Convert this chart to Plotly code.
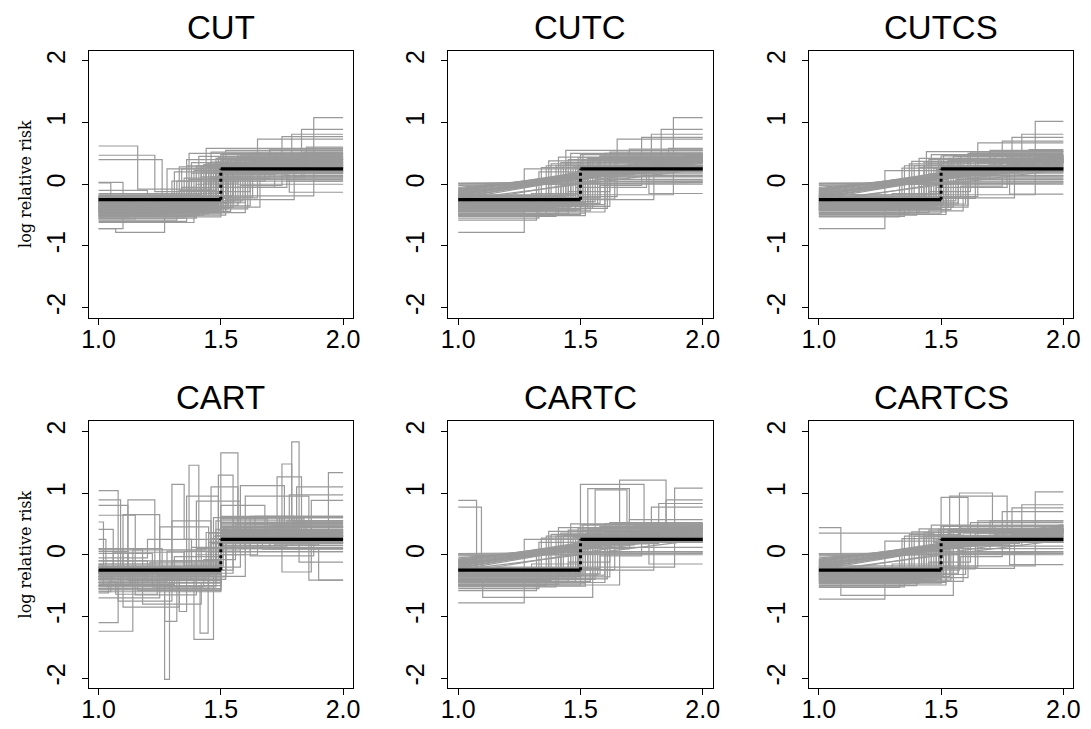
import plotly.graph_objects as go

W, H = 1091, 729

TITLES = ["CUT", "CUTC", "CUTCS", "CART", "CARTC", "CARTCS"]
X_TICKS = [1.0, 1.5, 2.0]
X_TICK_TEXT = ["1.0", "1.5", "2.0"]
Y_TICKS = [-2, -1, 0, 1, 2]
Y_TICK_TEXT = ["-2", "-1", "0", "1", "2"]
Y_LABEL = "log relative risk"
X_START, X_END = 1.0, 2.0
TRUE_BREAK = 1.5
TRUE_LEVELS = [-0.25, 0.25]

# each gray curve: (break points, levels) of a step function over [1, 2]
CUT_STEPS = [
    ([1.88], [-0.19, 1.08]), ([1.52, 1.83], [-0.30, 0.12, 0.89]),
    ([1.47, 1.79], [-0.36, 0.22, 0.81]), ([1.44, 1.75], [-0.27, 0.33, 0.77]),
    ([1.50, 1.65], [-0.42, -0.22, 0.73]), ([1.16, 1.46], [0.62, -0.08, 0.36]),
    ([1.23, 1.51], [0.47, -0.12, 0.28]), ([1.26, 1.55], [0.40, -0.20, 0.22]),
    ([1.10, 1.42], [0.03, -0.28, 0.18]), ([1.07, 1.27, 1.50], [-0.72, -0.78, -0.35, 0.30]),
    ([1.10, 1.40], [-0.72, -0.45, 0.26]), ([1.30, 1.56], [-0.50, 0.05, 0.40]),
    ([1.35, 1.60], [-0.55, 0.10, 0.45]), ([1.38], [-0.45, 0.35]),
    ([1.40], [-0.40, 0.30]), ([1.42], [-0.35, 0.28]), ([1.45], [-0.30, 0.32]),
    ([1.47], [-0.25, 0.25]), ([1.49], [-0.22, 0.20]), ([1.50], [-0.32, 0.38]),
    ([1.51], [-0.28, 0.15]), ([1.53], [-0.20, 0.40]), ([1.55], [-0.38, 0.22]),
    ([1.58], [-0.30, 0.30]), ([1.62], [-0.35, 0.50]),
    ([1.33, 1.48], [-0.42, -0.10, 0.42]), ([1.36, 1.52], [-0.60, -0.20, 0.55]),
    ([1.43, 1.57], [-0.50, 0.02, 0.48]), ([1.46, 1.70], [-0.24, 0.10, 0.57]),
    ([1.48, 1.77], [-0.18, -0.05, 0.45]), ([1.52, 1.80], [-0.46, -0.25, 0.35]),
    ([1.50, 1.77], [-0.38, 0.30, 0.05]), ([1.55, 1.80], [-0.30, 0.35, 0.12]),
    ([1.48], [-0.15, 0.00]), ([1.49, 1.78], [-0.33, 0.15, -0.13]),
    ([1.45], [-0.48, 0.18]), ([1.40, 1.60], [-0.52, -0.30, 0.10]),
    ([1.32], [-0.58, 0.05]), ([1.37], [-0.26, 0.50]), ([1.44], [-0.20, 0.58]),
    ([1.51], [-0.44, 0.42]), ([1.53, 1.85], [-0.40, 0.20, 0.60]),
    ([1.56], [-0.27, 0.08]), ([1.46], [-0.36, 0.12]), ([1.34], [-0.32, 0.25]),
    ([1.20, 1.50], [-0.10, -0.40, 0.33]), ([1.50], [-0.48, 0.48]),
    ([1.39], [-0.62, 0.22]), ([1.60], [-0.46, 0.36]), ([1.58, 1.75], [-0.22, -0.02, 0.42]),
    ([1.05, 1.36], [0.02, -0.36, 0.30]), ([1.12, 1.44], [-0.55, -0.18, 0.27]),
    ([1.31], [-0.40, 0.20]), ([1.33], [-0.46, 0.28]), ([1.36], [-0.30, 0.40]),
    ([1.38], [-0.35, 0.18]), ([1.41], [-0.50, 0.45]), ([1.43], [-0.42, 0.32]),
    ([1.44], [-0.28, 0.22]), ([1.46], [-0.33, 0.52]), ([1.47], [-0.45, 0.26]),
    ([1.48], [-0.38, 0.36]), ([1.49], [-0.29, 0.44]), ([1.50], [-0.41, 0.24]),
    ([1.50], [-0.26, 0.31]), ([1.51], [-0.35, 0.50]), ([1.52], [-0.50, 0.20]),
    ([1.52], [-0.23, 0.34]), ([1.53], [-0.31, 0.27]), ([1.54], [-0.44, 0.39]),
    ([1.55], [-0.19, 0.30]), ([1.57], [-0.34, 0.44]), ([1.59], [-0.27, 0.19]),
    ([1.61], [-0.40, 0.28]), ([1.63], [-0.21, 0.37]), ([1.66], [-0.37, 0.25]),
    ([1.34, 1.51], [-0.47, -0.05, 0.33]), ([1.37, 1.53], [-0.39, 0.08, 0.40]),
    ([1.40, 1.55], [-0.55, 0.00, 0.29]), ([1.42, 1.58], [-0.31, 0.12, 0.46]),
    ([1.45, 1.62], [-0.43, -0.12, 0.38]), ([1.47, 1.68], [-0.28, 0.05, 0.31]),
    ([1.49, 1.72], [-0.36, 0.16, 0.48]), ([1.51, 1.74], [-0.24, 0.22, 0.40]),
    ([1.30, 1.50], [-0.33, -0.15, 0.20]), ([1.25, 1.48], [-0.52, -0.32, 0.27]),
    ([1.20, 1.45], [-0.38, -0.22, 0.35]), ([1.15, 1.50], [-0.56, -0.30, 0.23]),
    ([1.50, 1.82], [-0.30, 0.18, 0.34]), ([1.50, 1.76], [-0.42, 0.28, 0.14]),
    ([1.48, 1.79], [-0.22, 0.35, 0.20]), ([1.53, 1.70], [-0.35, 0.42, 0.55]),
    ([1.28, 1.50], [-0.44, 0.25, 0.18]), ([1.42, 1.64], [-0.17, 0.30, 0.41]),
    ([1.46, 1.84], [-0.39, 0.08, 0.52]), ([1.50, 1.72], [-0.53, -0.05, 0.26]),
]
CUT_LINES = []

CUTC_STEPS = [
    ([1.88], [-0.17, 1.08]), ([1.52, 1.83], [-0.30, 0.15, 0.89]),
    ([1.48, 1.79], [-0.36, 0.20, 0.81]), ([1.44, 1.75], [-0.27, 0.35, 0.76]),
    ([1.50, 1.65], [-0.40, -0.20, 0.73]), ([1.27, 1.50], [-0.78, -0.40, 0.28]),
    ([1.27, 1.55], [-0.45, 0.25, 0.40]), ([1.33, 1.53], [-0.55, 0.20, 0.35]),
    ([1.36, 1.58], [-0.50, 0.30, 0.45]), ([1.38], [-0.42, 0.33]),
    ([1.40], [-0.38, 0.30]), ([1.42, 1.60], [-0.35, 0.35, 0.50]),
    ([1.45], [-0.30, 0.40]), ([1.47], [-0.26, 0.28]), ([1.49], [-0.22, 0.22]),
    ([1.50], [-0.33, 0.38]), ([1.51], [-0.29, 0.15]), ([1.53], [-0.21, 0.42]),
    ([1.55], [-0.39, 0.24]), ([1.58], [-0.31, 0.30]), ([1.62], [-0.36, 0.52]),
    ([1.46, 1.70], [-0.25, 0.10, 0.57]), ([1.48, 1.77], [-0.18, -0.05, 0.45]),
    ([1.52, 1.80], [-0.47, -0.25, 0.36]), ([1.49, 1.78], [-0.34, 0.18, -0.15]),
    ([1.45], [-0.48, 0.18]), ([1.40, 1.60], [-0.52, -0.33, 0.12]),
    ([1.32], [-0.58, 0.05]), ([1.56], [-0.28, 0.08]), ([1.46], [-0.37, 0.13]),
    ([1.50], [-0.49, 0.48]), ([1.60], [-0.45, 0.36]),
    ([1.58, 1.75], [-0.22, -0.02, 0.42]), ([1.53, 1.86], [-0.40, 0.20, 0.58]),
    ([1.44], [-0.20, 0.55]),
    ([1.34], [-0.44, 0.27]), ([1.37], [-0.31, 0.38]), ([1.41], [-0.48, 0.44]),
    ([1.43], [-0.40, 0.31]), ([1.46], [-0.34, 0.50]), ([1.48], [-0.43, 0.25]),
    ([1.49], [-0.28, 0.43]), ([1.50], [-0.40, 0.23]), ([1.51], [-0.34, 0.49]),
    ([1.52], [-0.51, 0.21]), ([1.54], [-0.43, 0.38]), ([1.57], [-0.33, 0.43]),
    ([1.61], [-0.39, 0.27]), ([1.64], [-0.24, 0.36]),
    ([1.37, 1.53], [-0.39, 0.08, 0.40]), ([1.42, 1.58], [-0.31, 0.12, 0.46]),
    ([1.45, 1.62], [-0.43, -0.12, 0.38]), ([1.49, 1.72], [-0.36, 0.16, 0.48]),
    ([1.30, 1.50], [-0.33, -0.15, 0.20]), ([1.50, 1.82], [-0.30, 0.18, 0.34]),
    ([1.50, 1.76], [-0.42, 0.28, 0.14]), ([1.53, 1.70], [-0.35, 0.42, 0.55]),
]
# linear fits: (value at x=1, value at x=2)
CUTC_LINES = [
    (-0.15, 0.45), (-0.12, 0.48), (-0.18, 0.42), (-0.10, 0.40), (-0.20, 0.38),
    (-0.08, 0.35), (-0.14, 0.30), (-0.22, 0.46), (-0.05, 0.28), (0.02, 0.05),
    (0.00, 0.00), (-0.02, 0.03), (-0.25, 0.25), (-0.30, 0.35), (-0.11, 0.50),
    (-0.16, 0.40), (-0.13, 0.44), (-0.19, 0.47), (-0.09, 0.43), (-0.17, 0.36),
    (-0.21, 0.41), (-0.07, 0.39), (-0.14, 0.37), (-0.24, 0.43), (0.01, 0.02),
]

CUTCS_STEPS = [
    ([1.885], [-0.17, 1.02]), ([1.52, 1.83], [-0.30, 0.15, 0.81]),
    ([1.48, 1.79], [-0.36, 0.20, 0.76]), ([1.44, 1.75], [-0.27, 0.33, 0.70]),
    ([1.50, 1.65], [-0.40, -0.20, 0.67]), ([1.27, 1.50], [-0.72, -0.40, 0.28]),
    ([1.27, 1.53], [-0.42, 0.22, 0.38]), ([1.35, 1.55], [-0.52, 0.30, 0.45]),
    ([1.37, 1.58], [-0.47, 0.33, 0.40]), ([1.39], [-0.40, 0.30]),
    ([1.41], [-0.36, 0.27]), ([1.43, 1.62], [-0.33, 0.36, 0.52]),
    ([1.45], [-0.29, 0.40]), ([1.47], [-0.25, 0.26]), ([1.49], [-0.21, 0.20]),
    ([1.50], [-0.31, 0.36]), ([1.51], [-0.27, 0.14]), ([1.53], [-0.20, 0.42]),
    ([1.55], [-0.37, 0.22]), ([1.57], [-0.30, 0.30]), ([1.61], [-0.34, 0.50]),
    ([1.46, 1.70], [-0.24, 0.10, 0.55]), ([1.48, 1.77], [-0.17, -0.05, 0.44]),
    ([1.52, 1.80], [-0.45, -0.22, 0.34]), ([1.49, 1.78], [-0.33, 0.17, -0.16]),
    ([1.45], [-0.46, 0.17]), ([1.40, 1.60], [-0.50, -0.32, 0.10]),
    ([1.33], [-0.53, 0.05]), ([1.56], [-0.27, 0.08]), ([1.46], [-0.36, 0.12]),
    ([1.50], [-0.47, 0.46]), ([1.59], [-0.43, 0.34]),
    ([1.58, 1.75], [-0.21, -0.03, 0.41]), ([1.53, 1.86], [-0.38, 0.20, 0.56]),
    ([1.44], [-0.19, 0.53]),
    ([1.34], [-0.42, 0.26]), ([1.38], [-0.30, 0.37]), ([1.41], [-0.46, 0.42]),
    ([1.43], [-0.39, 0.30]), ([1.46], [-0.33, 0.48]), ([1.48], [-0.41, 0.24]),
    ([1.49], [-0.27, 0.41]), ([1.50], [-0.38, 0.22]), ([1.51], [-0.33, 0.47]),
    ([1.52], [-0.49, 0.20]), ([1.54], [-0.41, 0.37]), ([1.57], [-0.32, 0.42]),
    ([1.61], [-0.37, 0.26]), ([1.64], [-0.23, 0.35]),
    ([1.37, 1.53], [-0.38, 0.08, 0.39]), ([1.42, 1.58], [-0.30, 0.12, 0.45]),
    ([1.45, 1.62], [-0.41, -0.12, 0.37]), ([1.49, 1.72], [-0.35, 0.16, 0.46]),
    ([1.30, 1.50], [-0.32, -0.15, 0.20]), ([1.50, 1.82], [-0.29, 0.18, 0.33]),
    ([1.50, 1.76], [-0.40, 0.28, 0.14]), ([1.53, 1.70], [-0.34, 0.41, 0.53]),
]
CUTCS_LINES = [
    (-0.15, 0.45), (-0.12, 0.47), (-0.18, 0.40), (-0.10, 0.38), (-0.20, 0.36),
    (-0.08, 0.33), (-0.14, 0.30), (-0.22, 0.44), (-0.05, 0.27), (0.02, 0.04),
    (0.00, 0.00), (-0.02, 0.02), (-0.26, 0.24), (-0.30, 0.33), (-0.11, 0.49),
    (-0.16, 0.39), (-0.13, 0.43), (-0.19, 0.46), (-0.09, 0.42), (-0.17, 0.35),
    (-0.21, 0.40), (-0.07, 0.38), (-0.14, 0.36), (-0.24, 0.42), (0.01, 0.02),
]

CART_STEPS = [
    ([1.50, 1.79, 1.82], [-0.30, 0.15, 1.83, -0.12]),
    ([1.50, 1.57], [-0.40, 1.65, 0.35]),
    ([1.37, 1.41, 1.50], [-0.30, 1.45, -0.10, 0.40]),
    ([1.50, 1.94], [-0.25, 0.30, 1.33]),
    ([1.50, 1.75, 1.79], [-0.45, 0.45, 1.47, 0.50]),
    ([1.49, 1.55], [-0.20, 1.29, 0.20]),
    ([1.30, 1.35], [-0.35, 1.14, 0.25]),
    ([1.12, 1.23, 1.50], [-0.40, 0.89, -0.20, 0.30]),
    ([1.48, 1.73, 1.83], [-0.30, 0.20, 1.26, 0.40]),
    ([1.08, 1.50], [1.04, -0.30, 0.30]),
    ([1.09, 1.45], [0.89, -0.45, 0.20]),
    ([1.12, 1.52], [0.80, -0.35, 0.45]),
    ([1.15, 1.55], [0.64, -0.25, 0.15]),
    ([1.02, 1.40], [0.53, -0.50, 0.10]),
    ([1.06, 1.48], [0.41, -0.28, 0.35]),
    ([1.14, 1.50], [-1.24, -0.30, 0.25]),
    ([1.08, 1.50], [-1.10, -0.20, 0.40]),
    ([1.27, 1.29, 1.50], [-0.30, -2.02, -0.40, 0.30]),
    ([1.415, 1.448, 1.50], [-0.50, -1.27, -0.30, 0.20]),
    ([1.39, 1.47], [-0.40, -1.37, 0.30]),
    ([1.27, 1.32, 1.50], [-0.55, -1.08, -0.25, 0.35]),
    ([1.50, 1.86], [-0.30, 0.30, -0.41]),
    ([1.50, 1.90], [-0.20, 0.10, -0.41]),
    ([1.50, 1.75, 1.87], [-0.35, 0.25, -0.28, 0.45]),
    ([1.50, 1.81], [-0.25, 0.40, 1.10]),
    ([1.52, 1.78], [-0.40, 0.35, 0.97]),
    ([1.50, 1.87], [-0.30, 0.20, 0.88]),
    ([1.10, 1.25, 1.50], [-0.30, 0.65, -0.20, 0.35]),
    ([1.40, 1.58], [-0.35, 0.87, 0.30]),
    ([1.36, 1.49], [-0.25, 0.95, 0.40]),
    ([1.30, 1.46], [-0.50, 0.55, 0.20]),
    ([1.25, 1.45], [-0.15, 0.45, 0.05]),
    ([1.46, 1.57, 1.80], [-0.30, 1.10, 0.40, 0.55]),
    ([1.58, 1.76], [-0.20, 1.12, 0.30]),
    ([1.60, 1.86], [-0.35, 0.95, 0.45]),
    ([1.50, 1.68], [-0.60, 0.80, 0.20]),
    ([1.45], [-0.55, 0.35]), ([1.48], [-0.45, 0.55]), ([1.50], [-0.35, 0.20]),
    ([1.52], [-0.25, 0.30]), ([1.42, 1.60], [-0.30, 0.10, 0.45]),
    ([1.35, 1.55], [-0.20, 0.05, 0.60]), ([1.50, 1.70], [-0.50, 0.30, 0.10]),
    ([1.30, 1.50], [-0.40, -0.10, 0.35]), ([1.20, 1.50, 1.80], [-0.10, -0.45, 0.25, 0.55]),
    ([1.05, 1.50], [-0.60, -0.20, 0.15]), ([1.15, 1.40, 1.60], [-0.35, -0.65, 0.00, 0.40]),
    ([1.25, 1.50], [-0.70, -0.30, 0.50]), ([1.10, 1.33, 1.50], [-0.20, -0.85, -0.30, 0.30]),
    ([1.33, 1.36, 1.50], [-0.45, -0.92, -0.20, 0.28]), ([1.50], [-0.15, 0.62]),
    ([1.50, 1.65], [-0.28, 0.00, 0.35]), ([1.55], [-0.30, 0.05]),
    ([1.50, 1.60, 1.85], [-0.40, 0.15, 0.50, 0.25]), ([1.10, 1.50], [0.10, -0.35, 0.40]),
    ([1.03, 1.50], [0.25, -0.30, 0.20]), ([1.08, 1.30, 1.50], [-0.55, -0.75, -0.25, 0.45]),
    ([1.47, 1.75], [-0.10, 0.60, 0.30]), ([1.18, 1.42, 1.50], [-0.30, -0.80, -0.45, 0.38]),
    ([1.50], [-0.22, 0.12]), ([1.20, 1.38, 1.50], [-0.05, 0.25, -0.15, 0.48]),
    ([1.44, 1.62, 1.80], [-0.38, 0.05, 0.62, 0.18]),
    ([1.12, 1.50], [0.05, -0.42, 0.22]), ([1.18, 1.50], [0.08, -0.28, 0.33]),
    ([1.22, 1.48], [0.02, -0.52, 0.41]), ([1.26, 1.52], [0.10, -0.36, 0.27]),
    ([1.06, 1.35, 1.50], [-0.38, 0.04, -0.18, 0.52]), ([1.14, 1.44], [-0.48, 0.08, 0.36]),
    ([1.04, 1.28, 1.50], [-0.62, -0.44, 0.06, 0.31]), ([1.16, 1.50], [-0.26, -0.58, 0.44]),
    ([1.09, 1.50, 1.70], [-0.50, -0.24, 0.12, 0.47]), ([1.21, 1.50, 1.84], [-0.33, -0.12, 0.58, 0.36]),
    ([1.50, 1.64], [-0.46, 0.24, 0.62]), ([1.50, 1.72, 1.90], [-0.27, 0.52, 0.16, 0.38]),
    ([1.50, 1.58, 1.78], [-0.36, 0.06, 0.38, 0.21]), ([1.48, 1.67], [-0.41, 0.31, 0.09]),
    ([1.51, 1.82], [-0.18, 0.43, 0.30]), ([1.50, 1.77], [-0.57, 0.14, 0.55]),
    ([1.46, 1.62, 1.88], [-0.29, 0.18, -0.02, 0.28]), ([1.50, 1.69], [-0.32, 0.58, 0.40]),
    ([1.43, 1.56], [-0.52, -0.08, 0.50]), ([1.38, 1.50], [-0.36, 0.12, 0.32]),
    ([1.07, 1.24, 1.46], [-0.44, -0.64, -0.33, 0.26]), ([1.13, 1.31, 1.50], [-0.27, -0.48, -0.03, 0.44]),
    ([1.02, 1.19, 1.50], [-0.16, -0.40, -0.22, 0.18]), ([1.29, 1.50, 1.74], [-0.24, -0.55, 0.35, 0.60]),
]
CART_LINES = []

CARTC_STEPS = [
    ([1.075, 1.50], [0.88, -0.35, 0.30]), ([1.095, 1.50], [0.77, -0.30, 0.25]),
    ([1.27, 1.50], [-0.78, -0.40, 0.28]), ([1.10, 1.55], [-0.45, -0.69, 0.30]),
    ([1.50, 1.76], [-0.35, 1.14, 0.35]), ([1.50, 1.66, 1.85], [-0.30, 0.40, 1.21, 0.45]),
    ([1.53, 1.70], [-0.25, 1.07, 0.35]), ([1.56, 1.69], [-0.40, 1.05, 0.30]),
    ([1.885], [-0.20, 1.08]), ([1.50, 1.85], [-0.30, 0.30, 0.89]),
    ([1.48, 1.82], [-0.36, 0.20, 0.83]), ([1.52, 1.79], [-0.28, 0.35, 0.77]),
    ([1.27, 1.55], [-0.45, 0.25, 0.40]), ([1.33, 1.53], [-0.55, 0.20, 0.35]),
    ([1.36, 1.58], [-0.50, 0.30, 0.45]), ([1.38], [-0.42, 0.33]),
    ([1.40], [-0.38, 0.30]), ([1.42, 1.60], [-0.35, 0.35, 0.50]),
    ([1.45], [-0.30, 0.40]), ([1.47], [-0.26, 0.28]), ([1.49], [-0.22, 0.22]),
    ([1.50], [-0.33, 0.38]), ([1.53], [-0.21, 0.42]), ([1.55], [-0.39, 0.24]),
    ([1.58], [-0.31, 0.30]), ([1.62], [-0.36, 0.52]),
    ([1.46, 1.70], [-0.25, 0.10, 0.57]), ([1.52, 1.80], [-0.47, -0.25, 0.36]),
    ([1.49, 1.78], [-0.34, 0.18, -0.15]), ([1.66], [-0.49, 0.20]),
    ([1.40, 1.60], [-0.52, -0.33, 0.12]), ([1.32], [-0.58, 0.05]),
    ([1.50], [-0.49, 0.48]), ([1.60], [-0.45, 0.36]),
    ([1.58, 1.75], [-0.22, -0.02, 0.42]),
    ([1.34], [-0.44, 0.27]), ([1.37], [-0.31, 0.38]), ([1.41], [-0.48, 0.44]),
    ([1.43], [-0.40, 0.31]), ([1.46], [-0.34, 0.50]), ([1.48], [-0.43, 0.25]),
    ([1.49], [-0.28, 0.43]), ([1.50], [-0.40, 0.23]), ([1.51], [-0.34, 0.49]),
    ([1.52], [-0.51, 0.21]), ([1.54], [-0.43, 0.38]), ([1.57], [-0.33, 0.43]),
    ([1.61], [-0.39, 0.27]), ([1.64], [-0.24, 0.36]),
    ([1.37, 1.53], [-0.39, 0.08, 0.40]), ([1.42, 1.58], [-0.31, 0.12, 0.46]),
    ([1.45, 1.62], [-0.43, -0.12, 0.38]), ([1.49, 1.72], [-0.36, 0.16, 0.48]),
    ([1.30, 1.50], [-0.33, -0.15, 0.20]), ([1.50, 1.82], [-0.30, 0.18, 0.34]),
]
CARTC_LINES = [
    (-0.15, 0.45), (-0.12, 0.48), (-0.18, 0.42), (-0.10, 0.40), (-0.20, 0.38),
    (-0.08, 0.35), (-0.14, 0.30), (-0.22, 0.46), (-0.05, 0.28), (0.02, 0.05),
    (0.00, 0.00), (-0.02, 0.03), (-0.25, 0.25), (-0.30, 0.35), (-0.11, 0.50),
    (-0.16, 0.40), (-0.13, 0.44), (-0.19, 0.47), (-0.09, 0.43), (-0.17, 0.36),
    (-0.21, 0.41), (-0.07, 0.39), (-0.14, 0.37), (-0.24, 0.43), (0.01, 0.02),
]

CARTCS_STEPS = [
    ([1.09, 1.50], [0.44, -0.35, 0.30]), ([1.47], [0.35, 0.20]),
    ([1.27, 1.50], [-0.72, -0.40, 0.28]), ([1.09, 1.55], [-0.45, -0.66, 0.30]),
    ([1.575, 1.71], [-0.25, 1.00, 0.35]), ([1.535, 1.77], [-0.35, 0.95, 0.30]),
    ([1.50, 1.61], [-0.30, 0.93, 0.40]), ([1.885], [-0.18, 1.02]),
    ([1.52, 1.83], [-0.30, 0.15, 0.81]), ([1.48, 1.79], [-0.36, 0.20, 0.76]),
    ([1.44, 1.75], [-0.27, 0.30, 0.70]), ([1.50, 1.65], [-0.40, -0.20, 0.55]),
    ([1.27, 1.53], [-0.42, 0.22, 0.38]), ([1.35, 1.55], [-0.52, 0.30, 0.42]),
    ([1.37, 1.58], [-0.47, 0.33, 0.40]), ([1.39], [-0.40, 0.30]),
    ([1.41], [-0.36, 0.27]), ([1.43, 1.62], [-0.33, 0.36, 0.52]),
    ([1.45], [-0.29, 0.40]), ([1.47], [-0.25, 0.26]), ([1.49], [-0.21, 0.20]),
    ([1.50], [-0.31, 0.36]), ([1.51], [-0.27, 0.14]), ([1.53], [-0.20, 0.42]),
    ([1.55], [-0.37, 0.22]), ([1.57], [-0.30, 0.30]),
    ([1.46, 1.70], [-0.24, 0.10, 0.55]), ([1.52, 1.80], [-0.45, -0.22, 0.34]),
    ([1.49, 1.78], [-0.33, 0.17, -0.16]), ([1.40, 1.60], [-0.50, -0.32, 0.10]),
    ([1.33], [-0.53, 0.05]), ([1.50], [-0.47, 0.46]), ([1.59], [-0.43, 0.34]),
    ([1.58, 1.75], [-0.21, -0.03, 0.41]),
    ([1.34], [-0.42, 0.26]), ([1.38], [-0.30, 0.37]), ([1.41], [-0.46, 0.42]),
    ([1.43], [-0.39, 0.30]), ([1.46], [-0.33, 0.48]), ([1.48], [-0.41, 0.24]),
    ([1.49], [-0.27, 0.41]), ([1.50], [-0.38, 0.22]), ([1.51], [-0.33, 0.47]),
    ([1.52], [-0.49, 0.20]), ([1.54], [-0.41, 0.37]), ([1.57], [-0.32, 0.42]),
    ([1.61], [-0.37, 0.26]), ([1.64], [-0.23, 0.35]),
    ([1.37, 1.53], [-0.38, 0.08, 0.39]), ([1.42, 1.58], [-0.30, 0.12, 0.45]),
    ([1.45, 1.62], [-0.41, -0.12, 0.37]), ([1.49, 1.72], [-0.35, 0.16, 0.46]),
    ([1.30, 1.50], [-0.32, -0.15, 0.20]), ([1.50, 1.82], [-0.29, 0.18, 0.33]),
]
CARTCS_LINES = [
    (-0.15, 0.45), (-0.12, 0.47), (-0.18, 0.40), (-0.10, 0.38), (-0.20, 0.36),
    (-0.08, 0.33), (-0.14, 0.30), (-0.22, 0.44), (-0.05, 0.27), (0.02, 0.04),
    (0.00, 0.00), (-0.02, 0.02), (-0.26, 0.24), (-0.30, 0.33), (-0.11, 0.49),
    (-0.16, 0.39), (-0.13, 0.43), (-0.19, 0.46), (-0.09, 0.42), (-0.17, 0.35),
    (-0.21, 0.40), (-0.07, 0.38), (-0.14, 0.36), (-0.24, 0.42), (0.01, 0.02),
]

PANEL_STEPS = [CUT_STEPS, CUTC_STEPS, CUTCS_STEPS, CART_STEPS, CARTC_STEPS, CARTCS_STEPS]
PANEL_LINES = [CUT_LINES, CUTC_LINES, CUTCS_LINES, CART_LINES, CARTC_LINES, CARTCS_LINES]

# layout (pixel boxes of plot regions)
COL_PX = [(82, 350), (447, 715), (813, 1081)]
ROW_PX = [(50, 317), (421, 688)]
GRAY = "#999999"
SANS = "Liberation Sans, Arial, Helvetica, sans-serif"

fig = go.Figure()

for i in range(6):
    r, c = divmod(i, 3)
    n = i + 1
    xa = "x" if n == 1 else f"x{n}"
    ya = "y" if n == 1 else f"y{n}"

    sx, sy = [], []
    for breaks, levels in PANEL_STEPS[i]:
        sx += [X_START] + list(breaks) + [X_END, None]
        sy += list(levels) + [levels[-1], None]
    fig.add_trace(go.Scatter(x=sx, y=sy, mode="lines", line=dict(color=GRAY, width=1.2, shape="hv"),
                             xaxis=xa, yaxis=ya, hoverinfo="skip", showlegend=False))
    if PANEL_LINES[i]:
        lx, ly = [], []
        for a, b in PANEL_LINES[i]:
            lx += [X_START, X_END, None]
            ly += [a, b, None]
        fig.add_trace(go.Scatter(x=lx, y=ly, mode="lines", line=dict(color=GRAY, width=1.2),
                                 xaxis=xa, yaxis=ya, hoverinfo="skip", showlegend=False))
    # true step function
    fig.add_trace(go.Scatter(x=[X_START, TRUE_BREAK, None, TRUE_BREAK, X_END],
                             y=[TRUE_LEVELS[0], TRUE_LEVELS[0], None, TRUE_LEVELS[1], TRUE_LEVELS[1]],
                             mode="lines", line=dict(color="black", width=3.2),
                             xaxis=xa, yaxis=ya, hoverinfo="skip", showlegend=False))
    fig.add_trace(go.Scatter(x=[TRUE_BREAK, TRUE_BREAK], y=TRUE_LEVELS,
                             mode="lines", line=dict(color="black", width=3, dash="dot"),
                             xaxis=xa, yaxis=ya, hoverinfo="skip", showlegend=False))

    x0, x1 = COL_PX[c]
    y0, y1 = ROW_PX[r]
    axis_common = dict(showline=True, mirror=True, linecolor="black", linewidth=1,
                       ticks="outside", ticklen=6, tickwidth=1, tickcolor="black",
                       showgrid=False, zeroline=False, fixedrange=True,
                       tickfont=dict(family=SANS, size=25, color="black"))
    fig.update_layout(**{
        ("xaxis" if n == 1 else f"xaxis{n}"): dict(
            axis_common, domain=[x0 / W, x1 / W], range=[0.96, 2.04],
            tickvals=X_TICKS, ticktext=X_TICK_TEXT, anchor=ya, ticklabelstandoff=-7),
        ("yaxis" if n == 1 else f"yaxis{n}"): dict(
            axis_common, domain=[1 - y1 / H, 1 - y0 / H], range=[-2.16, 2.16],
            tickvals=Y_TICKS, ticktext=Y_TICK_TEXT, anchor=xa, tickangle=-90,
            ticklabelstandoff=7),
    })
    # panel title
    fig.add_annotation(text=TITLES[i], x=(x0 + x1) / 2 / W, y=1 - (26.5 + r * 371) / H,
                       xref="paper", yref="paper", showarrow=False, xanchor="center",
                       yanchor="middle", font=dict(family=SANS, size=33, color="black"))
    if c == 0:
        fig.add_annotation(text=Y_LABEL, x=18 / W, y=1 - ((y0 + y1) / 2) / H,
                           xref="paper", yref="paper", showarrow=False, textangle=-90,
                           xanchor="center", yanchor="middle",
                           font=dict(family="DejaVu Serif", size=16, color="black"))

fig.update_layout(width=W, height=H, margin=dict(l=0, r=0, t=0, b=0),
                  paper_bgcolor="white", plot_bgcolor="white", showlegend=False)

fig.write_html("out.html")
